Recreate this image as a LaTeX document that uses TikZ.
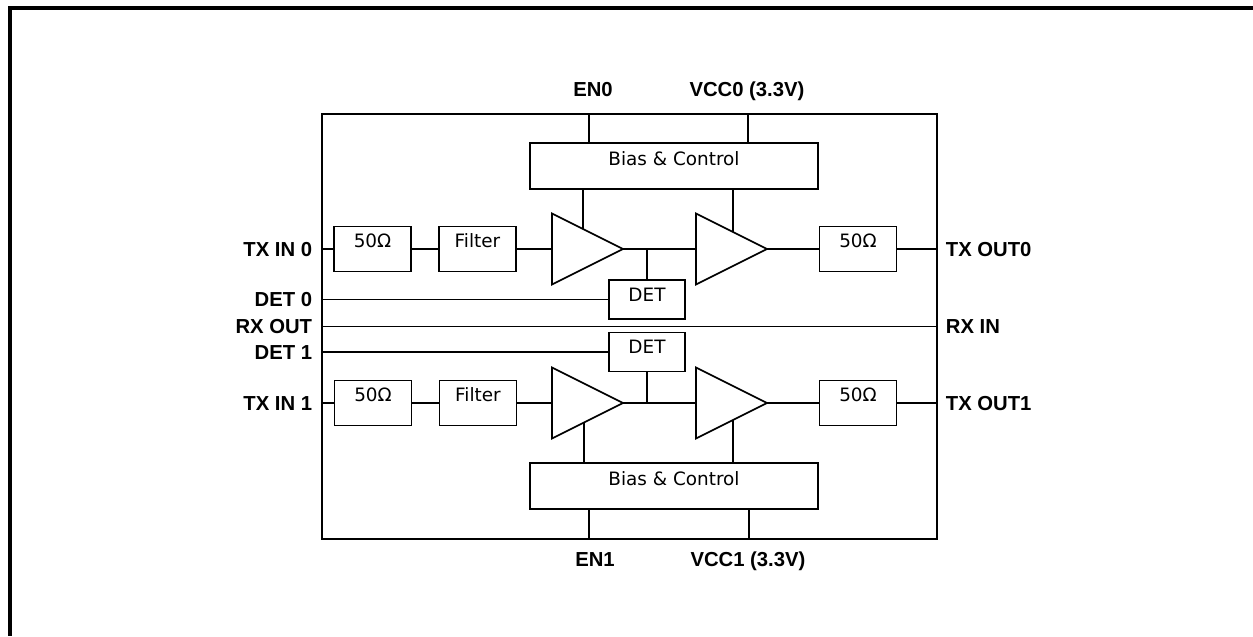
\documentclass[tikz,border=0pt]{standalone}
\usepackage{fontspec}
\setmainfont{DejaVu Sans}
\newfontfamily\pinfont{Liberation Sans}
\usetikzlibrary{shapes.geometric, positioning, calc}
\newdimen\px \px=0.75pt

\begin{document}
\begin{tikzpicture}[x=0.75pt, y=-0.75pt, line width=1.3pt,
	blk/.style = {draw, rectangle, inner sep=0, outer sep=0, minimum width=77\px, minimum height=45\px,
		text height=10pt, text depth=12pt, font=\fontsize{13.8}{16}\selectfont},
	detbox/.style = {blk, minimum width=76\px, minimum height=39\px, text depth=7.5pt},
	bias/.style = {blk, minimum width=288\px, minimum height=46\px, text depth=11pt},
	amp/.style = {draw, isosceles triangle, isosceles triangle stretches, minimum width=71\px,
		minimum height=71\px, inner sep=0, outer sep=0, anchor=west},
	pin/.style = {inner sep=0, text height=10.9pt, text depth=0pt,
		font=\pinfont\fontsize{15.2}{17}\selectfont\bfseries}]
	\useasboundingbox (0,0) rectangle (1253,636);
	\draw[line width=3pt] (1253,8) -- (10,8) -- (10,636);
	\node[draw, line width=1.6pt, minimum width=615\px, minimum height=425\px, inner sep=0, outer sep=0] (chip) at (629.5,326.5) {};

	% channel 0
	\node[blk] (r0) at (372.5,249) {50Ω};
	\node[blk] (f0) at (477.5,249) {Filter};
	\node[amp] (a0) at (552,249) {};
	\node[amp] (a1) at (696,249) {};
	\node[blk] (o0) at (858,249) {50Ω};
	\node[detbox] (d0) at (647,299.5) {DET};
	\node[bias] (b0) at (674,166) {Bias \& Control};

	% channel 1
	\node[blk] (r1) at (373,403) {50Ω};
	\node[blk] (f1) at (478,403) {Filter};
	\node[amp] (a2) at (552,403) {};
	\node[amp] (a3) at (696,403) {};
	\node[blk] (o1) at (858,403) {50Ω};
	\node[detbox] (d1) at (647,352) {DET};
	\node[bias] (b1) at (674,486) {Bias \& Control};

	% pins
	\coordinate (tx0) at (chip.west |- a0.west);
	\coordinate (tx1) at (chip.west |- a2.west);
	\coordinate (dt0) at (chip.west |- d0);
	\coordinate (dt1) at (chip.west |- d1);
	\coordinate (rxo) at (chip.west);
	\coordinate (rxi) at (chip.east);
	\coordinate (txo0) at (chip.east |- a1.east);
	\coordinate (txo1) at (chip.east |- a3.east);
	\coordinate (en0) at (589,114);
	\coordinate (vc0) at (748,114);
	\coordinate (en1) at (589,539);
	\coordinate (vc1) at (749,539);
	\coordinate (g0) at ($(a0.left corner)!0.44!(a0.apex)$);
	\coordinate (g1) at ($(a1.left corner)!0.52!(a1.apex)$);
	\coordinate (g2) at ($(a2.right corner)!0.45!(a2.apex)$);
	\coordinate (g3) at ($(a3.right corner)!0.52!(a3.apex)$);

	\node[pin, left=6.75pt of tx0] {TX IN 0};
	\node[pin, left=6.75pt of dt0] {DET 0};
	\node[pin, left=6.75pt of rxo] {RX OUT};
	\node[pin, left=6.75pt of dt1] {DET 1};
	\node[pin, left=6.75pt of tx1] {TX IN 1};
	\node[pin, right=6pt of txo0] {TX OUT0};
	\node[pin, right=6pt of rxi] {RX IN};
	\node[pin, right=6pt of txo1] {TX OUT1};
	\node[pin] (len0) at (593,89.5) {EN0};
	\node[pin] (lvc0) at (747,89.5) {VCC0 (3.3V)};
	\node[pin] (len1) at (595,559) {EN1};
	\node[pin] (lvc1) at (748,559) {VCC1 (3.3V)};

	% wiring
	\draw (tx0) -- (r0) -- (f0) -- (a0) -- (a1) -- (o0) -- (txo0);
	\draw (tx1) -- (r1) -- (f1) -- (a2) -- (a3) -- (o1) -- (txo1);
	\draw (d0) -- (d0 |- a0.east);
	\draw (d1) -- (d1 |- a2.east);
	\draw (dt0) -- (d0);
	\draw (dt1) -- (d1);
	\draw (rxo) -- (rxi);
	\draw (en0) -- (en0 |- b0.north);
	\draw (vc0) -- (vc0 |- b0.north);
	\draw (en1) -- (en1 |- b1.south);
	\draw (vc1) -- (vc1 |- b1.south);
	\draw (g0) -- (g0 |- b0.south);
	\draw (g1) -- (g1 |- b0.south);
	\draw (g2) -- (g2 |- b1.north);
	\draw (g3) -- (g3 |- b1.north);
\end{tikzpicture}
\end{document}
